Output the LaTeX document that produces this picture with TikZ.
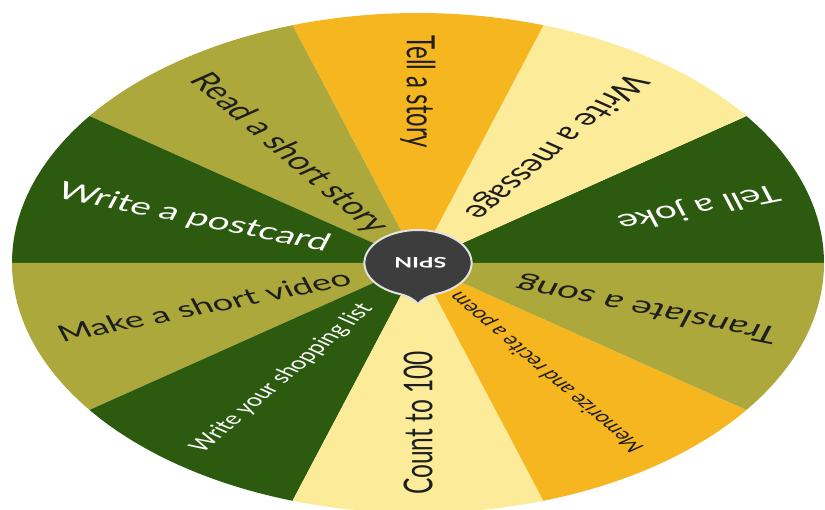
\documentclass[tikz,border=0pt]{standalone}
\usepackage{fontspec}
\setmainfont{Lato}
\definecolor{wheelorange}{HTML}{F6B61F}
\definecolor{wheelcream}{HTML}{FCEB98}
\definecolor{wheelgreen}{HTML}{2C5A0F}
\definecolor{wheelolive}{HTML}{ADA83C}
\definecolor{hubgray}{HTML}{3D3D3D}
\definecolor{hubrim}{HTML}{E2E2E2}
\definecolor{darktext}{HTML}{1E1E1E}
\tikzset{
  slicetext/.style={anchor=west,inner sep=0pt},
  hubshape/.style={fill=hubgray,draw=hubrim,line width=2pt,line join=round},
  spintext/.style={text=white,font=\fontsize{14.5}{14.5}\bfseries\selectfont,rotate=180,inner sep=0pt}
}
\begin{document}
\begin{tikzpicture}[x=1pt,y=1pt]
  \useasboundingbox (0,0) rectangle (825,509);
  \begin{scope}[shift={(418,246)},xscale=1.624,transform shape]
    \foreach \a/\c in {0/wheelgreen,36/wheelcream,72/wheelorange,108/wheelolive,144/wheelgreen,
                       180/wheelolive,216/wheelgreen,252/wheelcream,288/wheelorange,324/wheelolive}
      \fill[\c] (0,0) -- (\a:250pt) arc[start angle=\a,delta angle=36,radius=250pt] -- cycle;
    \foreach \a/\c/\s/\r/\n/\t in {18/white/24/233/joke/Tell a joke,
                                54/darktext/24/231/message/Write a message,
                                90/darktext/24/228/story/Tell a story,
                                126/darktext/24/231/reading/Read a short story,
                                162/white/24/233/postcard/Write a postcard,
                                198/darktext/22.5/233/video/Make a short video,
                                234/white/17/232/shopping/Write your shopping list,
                                270/darktext/24.5/232/count/Count to 100,
                                306/darktext/15.5/232/poem/Memorize and recite a poem,
                                342/darktext/24/233/song/Translate a song}
      \node[slicetext,text=\c,font=\fontsize{\s}{\s}\selectfont,rotate=\a+180] (\n) at (\a:\r pt) {\t};
    \filldraw[hubshape] (-70:33pt) arc[start angle=-70,end angle=250,radius=33pt]
      .. controls (-6pt,-33pt) and (-2pt,-37pt) .. (0,-41pt)
      .. controls (2pt,-37pt) and (6pt,-33pt) .. cycle;
    \node[spintext] (spin) at (1.5pt,0) {SPIN};
  \end{scope}
\end{tikzpicture}
\end{document}
